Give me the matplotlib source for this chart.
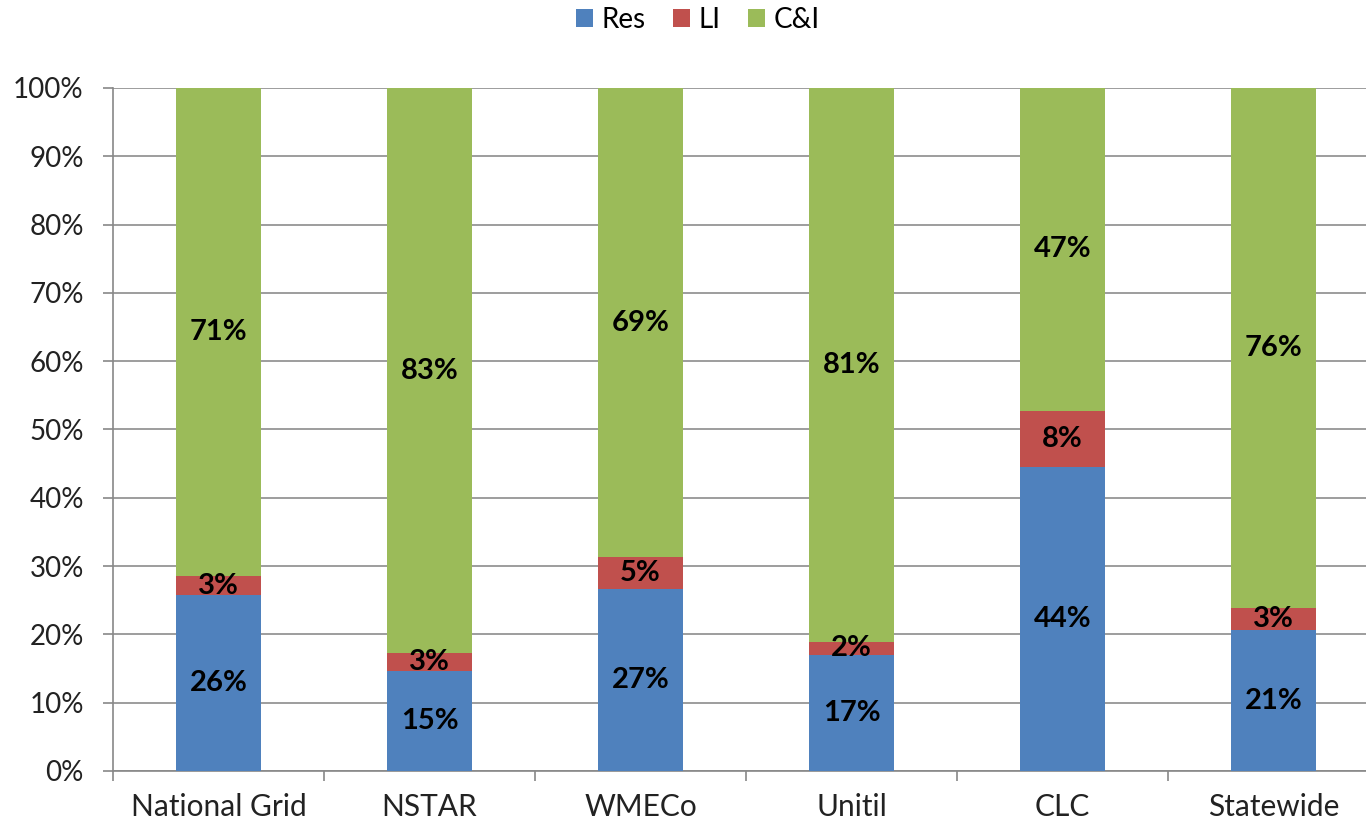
import numpy as np
import matplotlib
matplotlib.use("Agg")
import matplotlib.pyplot as plt
from matplotlib.ticker import PercentFormatter

plt.rcParams['font.family'] = ['Lato', 'DejaVu Sans']

# data (share of each sector, %)
utilities = ["National Grid", "NSTAR", "WMECo", "Unitil", "CLC", "Statewide"]
res = [25.7, 14.6, 26.6, 17.0, 44.5, 20.6]
li = [2.9, 2.6, 4.7, 1.9, 8.2, 3.2]
ci = [71.4, 82.8, 68.7, 81.1, 47.3, 76.2]
series_names = ["Res", "LI", "C&I"]
colors = ["#4F81BD", "#C0504D", "#9BBB59"]

fig = plt.figure(figsize=(13.66, 8.25), dpi=100)
ax = fig.add_axes([0.0827, 0.0655, 0.9268, 0.8279])

x = np.arange(len(utilities))
bottom = np.zeros(len(utilities))
for name, vals, col in zip(series_names, [res, li, ci], colors):
    vals = np.array(vals)
    ax.bar(x, vals, width=0.4, bottom=bottom, color=col, label=name, zorder=3)
    for xi, b, v in zip(x, bottom, vals):
        ax.text(xi, b + v / 2, "%d%%" % round(v), ha="center", va="center",
                fontsize=21, fontweight="bold", color="black", zorder=4)
    bottom += vals

ax.set_xlim(-0.5, len(utilities) - 0.5)
ax.set_ylim(0, 100)
ax.set_yticks(np.arange(0, 101, 10))
ax.yaxis.set_major_formatter(PercentFormatter(decimals=0))
ax.set_xticks(x)
ax.set_xticklabels(utilities)
ax.set_xticks(np.arange(-0.5, len(utilities), 1), minor=True)
ax.tick_params(axis="x", which="major", length=0, pad=16, labelsize=21.5, labelcolor="#222222")
ax.tick_params(axis="x", which="minor", length=7, color="#888888", width=1.2)
ax.tick_params(axis="y", length=7, color="#888888", width=1.2, labelsize=20,
               labelcolor="#222222", pad=14)

ax.grid(axis="y", color="#8c8c8c", linewidth=1.2, zorder=0)
for s in ["top", "right"]:
    ax.spines[s].set_visible(False)
for s in ["left", "bottom"]:
    ax.spines[s].set_color("#888888")
    ax.spines[s].set_linewidth(1.2)

ax.legend(loc="upper center", bbox_to_anchor=(0.462, 1.155), ncol=3, frameon=False,
          fontsize=20, handlelength=0.6, handleheight=0.6, handletextpad=0.3,
          columnspacing=1.0)

fig.savefig("out.png", dpi=100)
